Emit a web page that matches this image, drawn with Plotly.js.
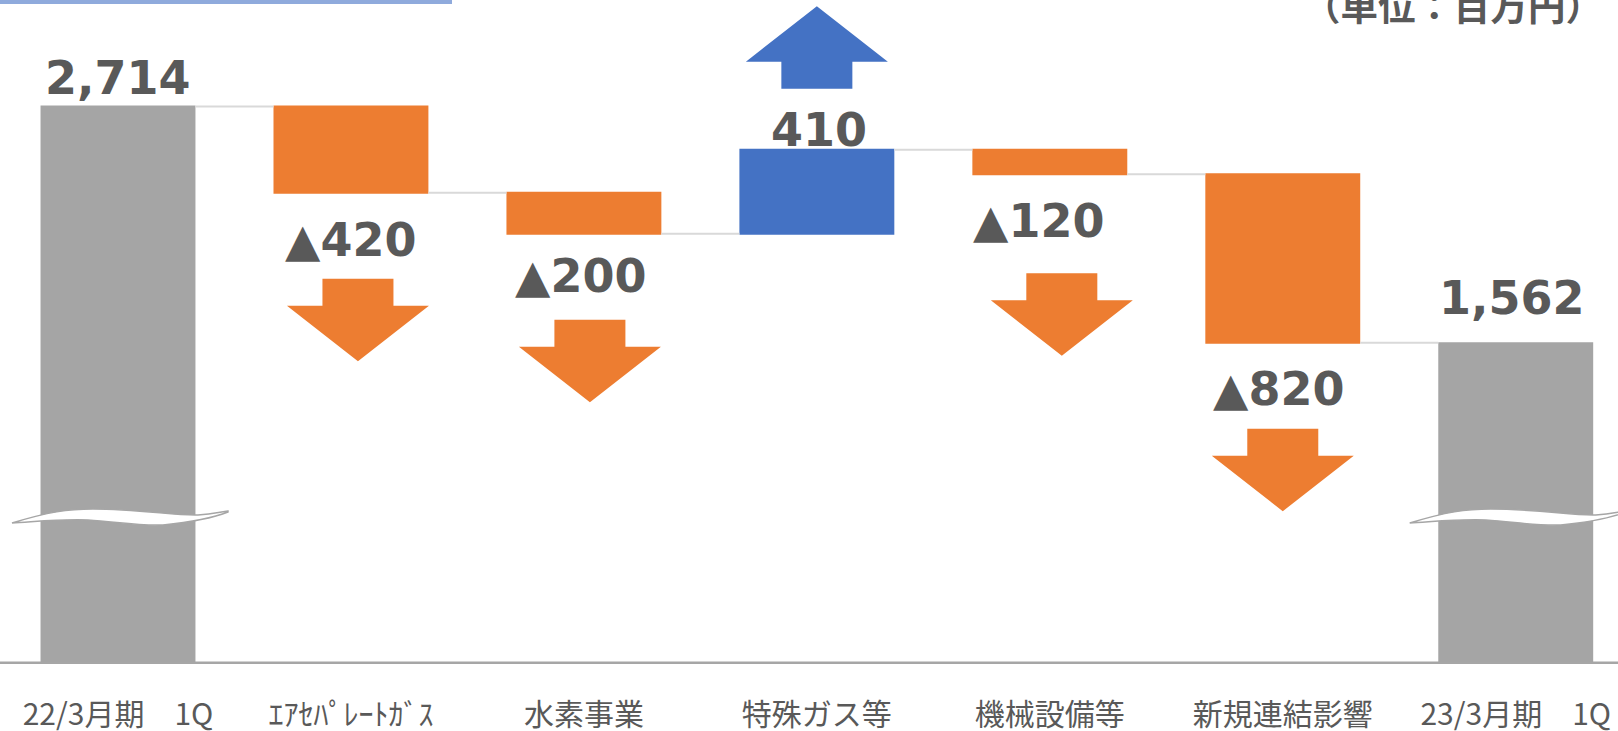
<!DOCTYPE html>
<html>
<head>
<meta charset="utf-8">
<script src="https://cdn.plot.ly/plotly-3.0.1.min.js"></script>
<style>html,body{margin:0;padding:0;background:#fff;}#chart{width:1618px;height:731px;}</style>
</head>
<body>
<div id="chart"></div>
<script>
// ---- data ----
const categories = ['22/3月期　1Q', 'ｴｱｾﾊﾟﾚｰﾄｶﾞｽ', '水素事業', '特殊ガス等', '機械設備等', '新規連結影響', '23/3月期　1Q'];
const measures = ['absolute', 'relative', 'relative', 'relative', 'relative', 'relative', 'absolute'];
const values = [2714, -420, -200, 410, -120, -820, 1562];
const valueLabels = ['2,714', '▲420', '▲200', '410', '▲120', '▲820', '1,562'];
const unitLabel = '（単位：百万円）';

// ---- styles ----
const C_UP = '#4472C4', C_DOWN = '#ED7D31', C_TOTAL = '#A5A5A5', C_TEXT = '#595959';
const NUM_FONT = 'DejaVu Sans, Verdana, sans-serif';
const JP_FONT = 'Noto Sans CJK JP, Noto Sans, sans-serif';
// label offsets in px [dx, dy] (dy positive = up), relative to bar end
const labelShift = [[0, 29], [0, -47], [-3, -42], [2, 20], [-11, -47], [-4, -46], [-4, 45]];
// arrow offsets in px [dx, dy] relative to bar end
const arrowShift = [null, [7, -86], [6, -86], [0, 61], [12, -99], [0, -86], null];

// bar starts / ends from the values
const starts = [], ends = [];
let run = 0;
values.forEach((v, i) => {
  if (measures[i] === 'absolute') { starts.push(0); ends.push(v); run = v; }
  else { starts.push(run); run += v; ends.push(run); }
});

const trace = {
  type: 'waterfall',
  x: categories,
  y: values,
  measure: measures,
  textinfo: 'none',
  hoverinfo: 'none',
  increasing: { marker: { color: C_UP } },
  decreasing: { marker: { color: C_DOWN } },
  totals: { marker: { color: C_TOTAL } },
  connector: { mode: 'between', line: { color: '#D9D9D9', width: 2 } }
};

const annotations = values.map((v, i) => {
  const up = measures[i] === 'absolute' || v > 0;
  const yEdge = up ? Math.max(starts[i], ends[i]) : Math.min(starts[i], ends[i]);
  return {
    x: i, y: yEdge, xref: 'x', yref: 'y',
    text: valueLabels[i], showarrow: false,
    xanchor: 'center', yanchor: 'middle',
    xshift: labelShift[i][0], yshift: labelShift[i][1],
    font: { family: NUM_FONT, size: 46, color: C_TEXT, weight: 'bold' }
  };
});
annotations.push({
  x: 0.992, y: 1, xref: 'paper', yref: 'paper', xanchor: 'right', yanchor: 'middle',
  yshift: -3, text: '<b>' + unitLabel + '</b>', showarrow: false,
  font: { family: JP_FONT, size: 37.5, color: C_TEXT }
});

const DOWN_PATH = 'M -35.5,0 L 35.5,0 L 35.5,-27 L 71,-27 L 0,-82.5 L -71,-27 L -35.5,-27 Z';
const UP_PATH = 'M -35.5,0 L 35.5,0 L 35.5,27 L 71,27 L 0,82.5 L -71,27 L -35.5,27 Z';
function shiftPath(p, dx, dy) {
  return p.replace(/(-?[\d.]+),(-?[\d.]+)/g, (m, a, b) => (parseFloat(a) + dx) + ',' + (parseFloat(b) + dy));
}
const shapes = [];
values.forEach((v, i) => {
  if (!arrowShift[i]) return;
  const up = v > 0;
  const yEdge = up ? Math.max(starts[i], ends[i]) : Math.min(starts[i], ends[i]);
  shapes.push({
    type: 'path', xref: 'x', yref: 'y', xsizemode: 'pixel', ysizemode: 'pixel',
    xanchor: i, yanchor: yEdge,
    path: shiftPath(up ? UP_PATH : DOWN_PATH, arrowShift[i][0], arrowShift[i][1]),
    fillcolor: up ? C_UP : C_DOWN, line: { width: 0 }, layer: 'above'
  });
});
// axis-break marks on the two total bars
const BREAK_PATH = 'M -106,-7 C -70,4 -50,7 -25,7 C 20,7 60,0 80,1 C 95,2 102,4 110,5 L 110,4 C 95,-2 75,-6 45,-9 C 20,-10 0,-6 -30,-4 C -60,-3 -85,-6 -106,-7 Z';
[0, categories.length - 1].forEach(i => {
  shapes.push({
    type: 'path', xref: 'x', yref: 'paper', xsizemode: 'pixel', ysizemode: 'pixel',
    xanchor: i, yanchor: 0.2229, path: BREAK_PATH,
    fillcolor: '#FFFFFF', line: { color: '#A6A6A6', width: 1.5 }, layer: 'above'
  });
});
// baseline
shapes.push({ type: 'line', xref: 'paper', yref: 'y', x0: 0, x1: 1, y0: 0, y1: 0,
  line: { color: '#A6A6A6', width: 5 }, layer: 'above' });
// top accent line
shapes.push({ type: 'rect', xref: 'paper', yref: 'paper', x0: 0, x1: 452 / 1618, y0: 1 - 4 / 664, y1: 1,
  fillcolor: '#8FAADC', line: { width: 0 }, layer: 'above' });

const layout = {
  width: 1618, height: 731,
  margin: { l: 0, r: 0, t: 0, b: 67, pad: 0 },
  paper_bgcolor: '#FFFFFF', plot_bgcolor: '#FFFFFF',
  showlegend: false,
  waterfallgap: 0.335,
  xaxis: {
    type: 'category', range: [-0.5065, 6.439], showgrid: false, zeroline: false, showline: false,
    ticks: '', ticklabelstandoff: 30,
    tickfont: { family: JP_FONT, size: 30, color: C_TEXT }
  },
  yaxis: { range: [0, 3232.5], visible: false, showgrid: false, zeroline: false },
  annotations: annotations,
  shapes: shapes
};

Plotly.newPlot('chart', [trace], layout, { staticPlot: true, displayModeBar: false });
</script>
</body>
</html>
